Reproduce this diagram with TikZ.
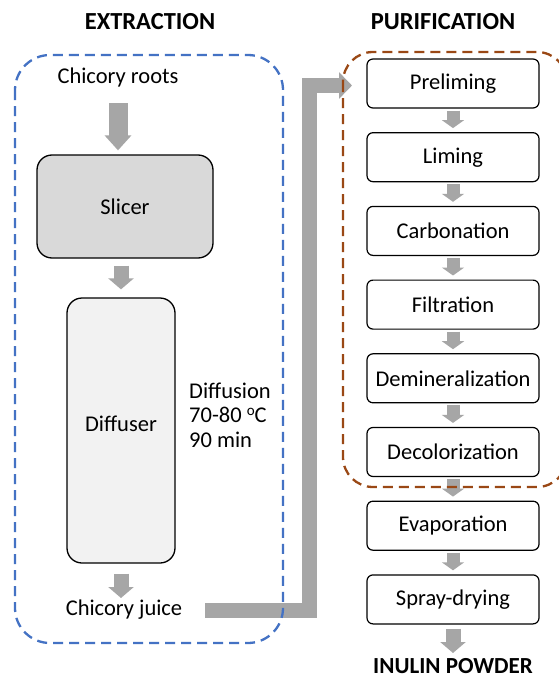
\documentclass[tikz,border=0pt]{standalone}
\usepackage{fontspec}
\setmainfont{Carlito}
\usetikzlibrary{arrows.meta,calc}
\definecolor{exblue}{HTML}{4472C4}
\definecolor{pubrown}{HTML}{9A4815}
\definecolor{arrgray}{HTML}{A6A6A6}
\definecolor{slicerfill}{HTML}{D9D9D9}
\definecolor{difffill}{HTML}{F2F2F2}
\begin{document}
\begin{tikzpicture}[x=1pt,y=-1pt,
  title/.style={font=\fontsize{24.5}{28}\selectfont\bfseries, inner sep=0},
  lbl/.style={font=\fontsize{22.5}{26}\selectfont, inner sep=0},
  exbox/.style={draw, line width=1.3pt, rounded corners=15pt, font=\fontsize{22.5}{26}\selectfont, inner sep=0},
  pbox/.style={draw, line width=1.2pt, rounded corners=6pt, minimum width=172pt, minimum height=49pt, font=\fontsize{22.5}{26}\selectfont, inner sep=0},
  bigflow/.style={draw=arrgray, line width=19pt, -{Triangle[width=26pt,length=15pt]}},
  midflow/.style={draw=arrgray, line width=15pt, -{Triangle[width=25pt,length=11pt]}},
  smallflow/.style={draw=arrgray, line width=13pt, -{Triangle[width=22pt,length=8pt]}},
  lflow/.style={draw=arrgray, line width=15pt, line join=miter, -{Triangle[width=26pt,length=13pt]}},
  groupline/.style={line width=2.3pt, dash pattern=on 10pt off 6pt},
]
\clip (0,0) rectangle (559,677);
\fill[white] (0,0) rectangle (559,677);

% titles
\node[title] (extitle) at (150,22) {EXTRACTION};
\node[title] (putitle) at (443,22) {PURIFICATION};

% extraction
\node[lbl] (roots) at (118,78) {Chicory roots};
\node[exbox, fill=slicerfill, minimum width=176pt, minimum height=103pt] (slicer) at (125,206.5) {Slicer};
\node[exbox, fill=difffill, minimum width=108pt, minimum height=265pt, text depth=0pt] (diff) at (121,430.5) {\raisebox{13pt}{Diffuser}};
\node[lbl, anchor=west, align=left, font=\fontsize{22.5}{24.5}\selectfont] (cond) at (189,415) {Diffusion\\70-80 {\fontsize{15}{15}\selectfont\raisebox{7.5pt}{o}}C\\90 min};
\node[lbl] (juice) at (124,610) {Chicory juice};

\draw[bigflow] ([yshift=-25pt]roots.center) -- ([yshift=4pt]roots.center |- slicer.north);
\draw[midflow] ([yshift=-7pt]diff.north |- slicer.south) -- ([yshift=8pt]diff.north);
\draw[midflow] ([yshift=-10pt]diff.south) -- ([yshift=12pt]diff.south |- juice.center);

% purification
\node[pbox] (pre) at (453,83.5) {Preliming};
\node[pbox] (lim) at (453,157.2) {Liming};
\node[pbox] (carb) at (453,230.9) {Carbonation};
\node[pbox] (filt) at (453,304.6) {Filtration};
\node[pbox] (demin) at (453,378.3) {Demineralization};
\node[pbox] (decol) at (453,452) {Decolorization};
\node[pbox] (evap) at (453,525.7) {Evaporation};
\node[pbox] (spray) at (453,599.4) {Spray-drying};
\node[title, font=\fontsize{23}{26}\selectfont\bfseries] (inulin) at (453,666.5) {INULIN POWDER};

\foreach \a/\b in {pre/lim,lim/carb,carb/filt,filt/demin,demin/decol,decol/evap,evap/spray}
  \draw[smallflow] ([yshift=-2pt]\a.south) -- ([yshift=4pt]\b.north);
\draw[midflow] ([yshift=-4pt]spray.south) -- ([yshift=4pt]spray.south |- 0,657);

% L-shaped connector
\coordinate (lstart) at (205,610.5);
\coordinate (lturn) at (309.5,85.5);
\coordinate (lend) at (352,85.5);
\draw[lflow] (lstart) -| (lturn) -- (lend);

% groups
\draw[groupline, exblue] (15,55) [rounded corners=35pt] rectangle (283,643);
\draw[groupline, pubrown] (343,52) [rounded corners=30pt] rectangle (567,487);
\end{tikzpicture}
\end{document}
